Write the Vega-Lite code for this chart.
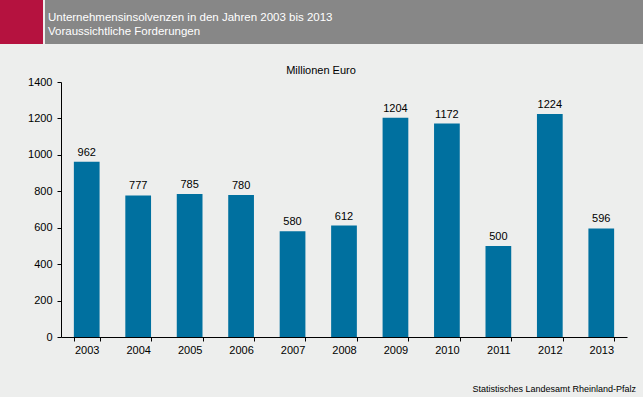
{
  "$schema": "https://vega.github.io/schema/vega-lite/v6.json",
  "background": "#edeeed",
  "padding": {"left": 0, "top": 0, "right": 0, "bottom": 4},
  "spacing": 21,
  "config": {
    "view": {"stroke": null},
    "font": "Liberation Sans",
    "title": {"fontWeight": "normal"}
  },
  "title": {
    "text": "Statistisches Landesamt Rheinland-Pfalz",
    "orient": "bottom",
    "anchor": "end",
    "frame": "bounds",
    "fontSize": 9,
    "color": "#000000",
    "offset": 30,
    "dx": -7
  },
  "vconcat": [
    {
      "spacing": 2,
      "hconcat": [
        {
          "width": 43,
          "height": 44,
          "view": {"fill": "#b5123f", "stroke": null},
          "data": {"values": [{"t": ""}]},
          "mark": {"type": "text"},
          "encoding": {"text": {"field": "t"}}
        },
        {
          "width": 598,
          "height": 44,
          "view": {"fill": "#878787", "stroke": null},
          "data": {"values": [{"t": ""}]},
          "mark": {"type": "text"},
          "encoding": {"text": {"field": "t"}},
          "title": {
            "text": ["Unternehmensinsolvenzen in den Jahren 2003 bis 2013", "Voraussichtliche Forderungen"],
            "anchor": "start",
            "frame": "group",
            "fontSize": 11.5,
            "lineHeight": 14,
            "color": "#ffffff",
            "baseline": "top",
            "offset": -37,
            "dx": 3
          }
        }
      ]
    },
    {
      "spacing": 0,
      "hconcat": [
        {
          "width": 1,
          "height": 10,
          "data": {"values": [{"t": ""}]},
          "mark": {"type": "text"},
          "encoding": {"text": {"field": "t"}}
        },
        {
          "width": 566,
          "height": 255,
          "data": {
            "values": [
              {"year": "2003", "value": 962},
              {"year": "2004", "value": 777},
              {"year": "2005", "value": 785},
              {"year": "2006", "value": 780},
              {"year": "2007", "value": 580},
              {"year": "2008", "value": 612},
              {"year": "2009", "value": 1204},
              {"year": "2010", "value": 1172},
              {"year": "2011", "value": 500},
              {"year": "2012", "value": 1224},
              {"year": "2013", "value": 596}
            ]
          },
          "title": {
            "text": "Millionen Euro",
            "fontSize": 11,
            "color": "#000000",
            "offset": 0,
            "dx": -23
          },
          "encoding": {
            "x": {
              "field": "year",
              "type": "ordinal",
              "scale": {"paddingInner": 0.5, "paddingOuter": 0.25},
              "axis": {
                "title": null,
                "labelAngle": 0,
                "labelFontSize": 11,
                "labelColor": "#000000",
                "labelPadding": 3,
                "tickBand": "extent",
                "tickSize": 4,
                "tickColor": "#000000",
                "domainColor": "#000000",
                "grid": false
              }
            },
            "y": {
              "field": "value",
              "type": "quantitative",
              "scale": {"domain": [0, 1400]},
              "axis": {
                "title": null,
                "values": [0, 200, 400, 600, 800, 1000, 1200, 1400],
                "format": "d",
                "labelFontSize": 11,
                "labelColor": "#000000",
                "labelPadding": 5,
                "tickSize": 4,
                "tickColor": "#000000",
                "domainColor": "#000000",
                "grid": false,
                "minExtent": 60,
                "maxExtent": 60
              }
            }
          },
          "layer": [
            {"mark": {"type": "bar", "color": "#00709f"}},
            {
              "mark": {"type": "text", "baseline": "bottom", "dy": -4, "fontSize": 11, "color": "#000000"},
              "encoding": {"text": {"field": "value", "type": "quantitative"}}
            }
          ]
        }
      ]
    }
  ]
}
